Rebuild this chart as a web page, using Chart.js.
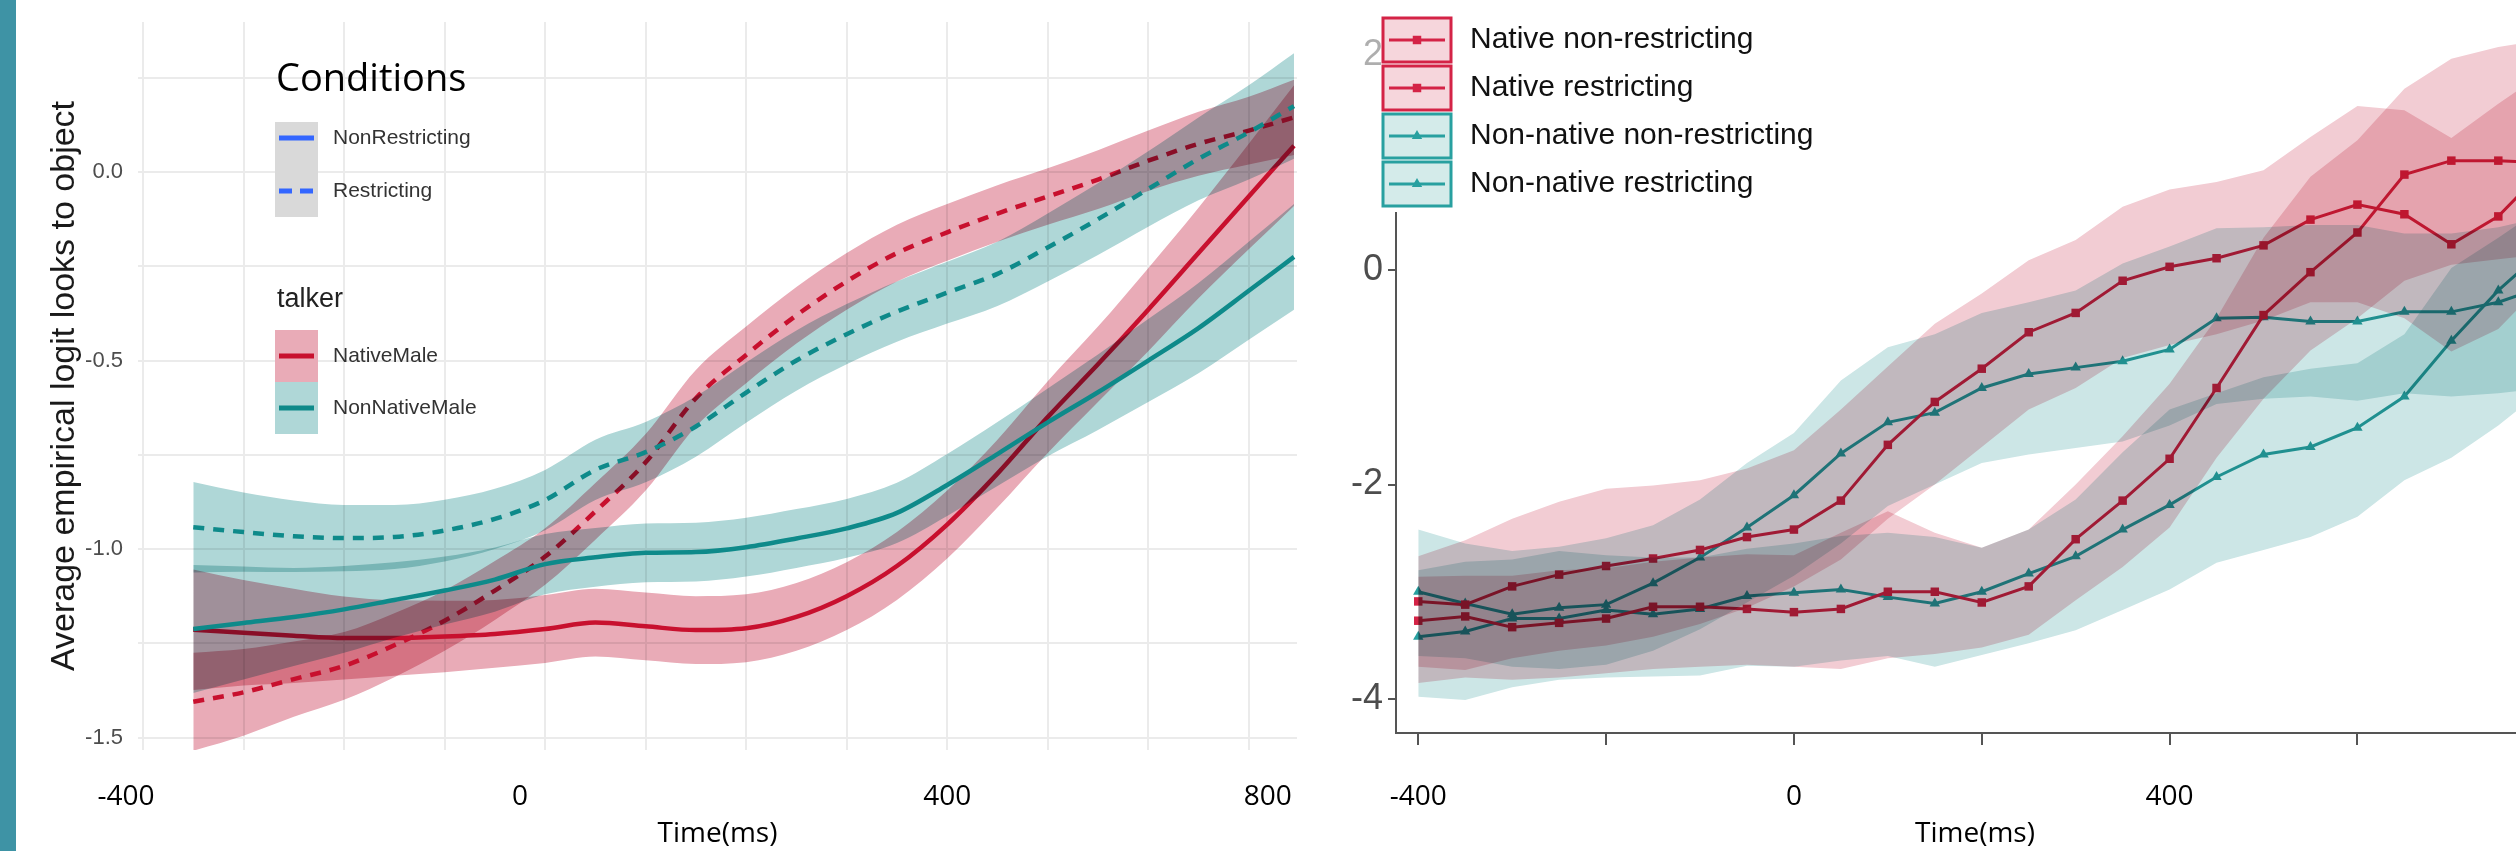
<!DOCTYPE html>
<html lang="en">
<head>
<meta charset="utf-8">
<title>Empirical logit looks to object</title>
<script src="https://cdn.jsdelivr.net/npm/chart.js@4.4.1/dist/chart.umd.min.js"></script>
<style>
  html, body { margin: 0; padding: 0; background: #fff; }
  body { width: 2516px; height: 851px; overflow: hidden; position: relative; }
  #franja { position: absolute; left: 0; top: 0; width: 16px; height: 851px; background: #3e93a5; z-index: 2; }
  #caja1 { position: absolute; left: 0; top: 0; width: 1340px; height: 851px; }
  #caja2 { position: absolute; left: 1300px; top: 0; width: 1260px; height: 851px; }
</style>
</head>
<body>
<div id="caja1"><canvas id="plot1" width="1340" height="851"></canvas></div>
<div id="caja2"><canvas id="plot2" width="1260" height="851"></canvas></div>
<div id="franja"></div>
<script>
// ---------- Panel izquierdo (curvas suavizadas) ----------
let leftTimes = [-350, -300, -250, -200, -150, -100, -50, 0, 50, 100, 150, 200, 250, 300, 350, 400, 450, 500, 550, 600, 650, 700, 745];

// NativeMale, NonRestricting (linea continua roja)
let nativeNonRestrFit = [-1.214, -1.222, -1.230, -1.236, -1.236, -1.232, -1.225, -1.212, -1.195, -1.205, -1.215, -1.210, -1.180, -1.125, -1.045, -0.935, -0.800, -0.650, -0.510, -0.365, -0.215, -0.065, 0.070];
let nativeNonRestrHi = [-1.054, -1.082, -1.105, -1.126, -1.136, -1.137, -1.135, -1.122, -1.105, -1.115, -1.125, -1.120, -1.090, -1.035, -0.955, -0.845, -0.710, -0.555, -0.410, -0.255, -0.095, 0.075, 0.230];
let nativeNonRestrLo = [-1.374, -1.362, -1.355, -1.346, -1.336, -1.327, -1.315, -1.302, -1.285, -1.295, -1.305, -1.300, -1.270, -1.215, -1.135, -1.025, -0.890, -0.745, -0.610, -0.475, -0.335, -0.205, -0.090];

// NativeMale, Restricting (discontinua roja)
let nativeRestrFit = [-1.405, -1.380, -1.345, -1.310, -1.255, -1.190, -1.110, -1.020, -0.900, -0.770, -0.600, -0.485, -0.380, -0.290, -0.215, -0.160, -0.110, -0.065, -0.020, 0.030, 0.075, 0.110, 0.145];
let nativeRestrHi = [-1.275, -1.265, -1.245, -1.220, -1.170, -1.110, -1.032, -0.945, -0.825, -0.695, -0.525, -0.410, -0.305, -0.215, -0.140, -0.085, -0.035, 0.010, 0.058, 0.110, 0.160, 0.200, 0.245];
let nativeRestrLo = [-1.535, -1.495, -1.445, -1.400, -1.340, -1.270, -1.188, -1.095, -0.975, -0.845, -0.675, -0.560, -0.455, -0.365, -0.290, -0.235, -0.185, -0.140, -0.098, -0.050, -0.010, 0.020, 0.045];

// NonNativeMale, NonRestricting (continua verde azulado)
let nonNativeNonRestrFit = [-1.212, -1.196, -1.180, -1.160, -1.135, -1.110, -1.081, -1.040, -1.022, -1.010, -1.008, -0.995, -0.972, -0.945, -0.904, -0.830, -0.748, -0.664, -0.584, -0.500, -0.414, -0.315, -0.225];
let nonNativeNonRestrHi = [-1.042, -1.046, -1.050, -1.045, -1.035, -1.020, -0.996, -0.960, -0.944, -0.932, -0.930, -0.917, -0.894, -0.867, -0.824, -0.748, -0.663, -0.574, -0.484, -0.390, -0.294, -0.185, -0.085];
let nonNativeNonRestrLo = [-1.382, -1.346, -1.310, -1.275, -1.235, -1.200, -1.166, -1.120, -1.100, -1.088, -1.086, -1.073, -1.050, -1.023, -0.984, -0.912, -0.833, -0.754, -0.684, -0.610, -0.534, -0.445, -0.365];

// NonNativeMale, Restricting (discontinua verde azulado)
let nonNativeRestrFit = [-0.942, -0.955, -0.966, -0.971, -0.968, -0.951, -0.920, -0.870, -0.790, -0.743, -0.675, -0.585, -0.500, -0.430, -0.370, -0.320, -0.270, -0.200, -0.125, -0.045, 0.035, 0.105, 0.175];
let nonNativeRestrHi = [-0.822, -0.850, -0.871, -0.883, -0.883, -0.869, -0.840, -0.790, -0.710, -0.663, -0.595, -0.505, -0.420, -0.350, -0.290, -0.238, -0.185, -0.110, -0.030, 0.055, 0.145, 0.230, 0.315];
let nonNativeRestrLo = [-1.062, -1.060, -1.061, -1.059, -1.053, -1.033, -1.000, -0.950, -0.870, -0.823, -0.755, -0.665, -0.580, -0.510, -0.450, -0.402, -0.355, -0.290, -0.220, -0.145, -0.075, -0.020, 0.035];

// lineas de la rejilla vertical
let leftGridValues = [-400, -300, -200, -100, 0, 100, 200, 300, 400, 500, 600, 700];
// etiquetas del eje x pegadas encima en la diapositiva
let leftTickLabels = ['-400', '0', '400', '800'];
let leftTickPos = [-417, -25, 400, 719];

let conditionNames = ['NonRestricting', 'Restricting'];
let talkerNames = ['NativeMale', 'NonNativeMale'];

// ---------- Panel derecho (medias empiricas) ----------
let rightTimes = [-400, -350, -300, -250, -200, -150, -100, -50, 0, 50, 100, 150, 200, 250, 300, 350, 400, 450, 500, 550, 600, 650, 700, 750, 800];
let rightTickValues = [-400, -200, 0, 200, 400, 600, 800];

let nativeNonRestr = [-3.27, -3.23, -3.33, -3.29, -3.25, -3.14, -3.14, -3.16, -3.19, -3.16, -3.00, -3.00, -3.10, -2.95, -2.51, -2.15, -1.76, -1.10, -0.42, -0.02, 0.35, 0.89, 1.02, 1.02, 1.00];
let nativeNonRestrUp = [-2.86, -2.85, -2.85, -2.80, -2.78, -2.72, -2.68, -2.65, -2.66, -2.45, -2.25, -2.45, -2.59, -2.42, -2.00, -1.55, -1.06, -0.45, 0.30, 0.87, 1.21, 1.69, 1.97, 2.08, 2.15];
let nativeNonRestrDown = [-3.85, -3.80, -3.82, -3.80, -3.76, -3.72, -3.70, -3.68, -3.70, -3.72, -3.62, -3.58, -3.52, -3.40, -3.08, -2.77, -2.40, -1.75, -1.20, -0.75, -0.45, -0.10, 0.05, 0.10, 0.15];

let nativeRestr = [-3.09, -3.12, -2.95, -2.84, -2.76, -2.69, -2.61, -2.49, -2.42, -2.15, -1.63, -1.23, -0.92, -0.58, -0.40, -0.10, 0.03, 0.11, 0.23, 0.47, 0.61, 0.52, 0.24, 0.50, 0.95];
let nativeRestrUp = [-2.67, -2.52, -2.32, -2.16, -2.04, -2.01, -1.96, -1.85, -1.68, -1.30, -0.90, -0.50, -0.22, 0.09, 0.28, 0.59, 0.75, 0.82, 0.93, 1.24, 1.53, 1.49, 1.23, 1.55, 1.85];
let nativeRestrDown = [-3.70, -3.73, -3.62, -3.55, -3.50, -3.42, -3.30, -3.15, -2.95, -2.70, -2.32, -2.00, -1.65, -1.30, -1.10, -0.82, -0.70, -0.60, -0.47, -0.30, -0.30, -0.45, -0.76, -0.55, -0.10];

let nonNativeNonRestr = [-3.42, -3.37, -3.25, -3.25, -3.17, -3.21, -3.16, -3.04, -3.01, -2.98, -3.05, -3.11, -3.00, -2.83, -2.67, -2.42, -2.19, -1.93, -1.72, -1.65, -1.47, -1.18, -0.66, -0.19, 0.20];
let nonNativeNonRestrUp = [-2.80, -2.72, -2.70, -2.62, -2.66, -2.68, -2.68, -2.60, -2.55, -2.48, -2.45, -2.49, -2.59, -2.42, -2.14, -1.70, -1.30, -1.15, -1.00, -0.92, -0.87, -0.60, 0.02, 0.30, 0.60];
let nonNativeNonRestrDown = [-3.98, -4.01, -3.89, -3.82, -3.80, -3.79, -3.78, -3.69, -3.70, -3.64, -3.60, -3.70, -3.59, -3.48, -3.36, -3.17, -2.98, -2.73, -2.61, -2.49, -2.30, -1.96, -1.75, -1.45, -1.10];

let nonNativeRestr = [-3.00, -3.11, -3.21, -3.15, -3.12, -2.92, -2.68, -2.40, -2.10, -1.71, -1.42, -1.33, -1.10, -0.97, -0.91, -0.85, -0.74, -0.45, -0.44, -0.48, -0.48, -0.39, -0.39, -0.30, -0.15];
let nonNativeRestrUp = [-2.42, -2.55, -2.62, -2.58, -2.50, -2.38, -2.14, -1.80, -1.52, -1.03, -0.72, -0.60, -0.40, -0.30, -0.19, 0.06, 0.22, 0.39, 0.40, 0.42, 0.42, 0.34, 0.34, 0.40, 0.50];
let nonNativeRestrDown = [-3.60, -3.62, -3.70, -3.72, -3.68, -3.55, -3.35, -3.10, -2.85, -2.55, -2.20, -2.00, -1.80, -1.72, -1.66, -1.60, -1.45, -1.25, -1.20, -1.18, -1.22, -1.15, -1.18, -1.15, -1.10];

// colores
let rojo = '#c8102e';
let verde = '#0e8a8a';
let rosaBandaIzq = '#e9abb7';
let verdeBandaIzq = '#afd7d7';
let rojoDer = '#d42346';
let verdeDer = '#28a0a0';
let rosaBandaDer = '#f2ccd3';
let verdeBandaDer = '#cce6e6';

let puntos = (tiempos, valores) => tiempos.map((t, i) => ({ x: t, y: valores[i] }));
let marcas = (valores) => (scale) => { scale.ticks = valores.map(v => ({ value: v })); };

// Las bandas se mezclan en modo multiply, como las transparencias del original
let modo = (chart, meta) => {
  let esBanda = meta && chart.data.datasets[meta.index].band;
  chart.ctx.globalCompositeOperation = esBanda ? 'multiply' : 'source-over';
};

let mezclaBandas = {
  id: 'mezclaBandas',
  beforeDatasetsDraw(chart) {
    let metas = chart.getSortedVisibleDatasetMetas();
    modo(chart, metas[metas.length - 1]);
  },
  afterDatasetDraw(chart, args) {
    let metas = chart.getSortedVisibleDatasetMetas();
    let pos = metas.indexOf(args.meta);
    modo(chart, metas[pos - 1]);
  },
  afterDatasetsDraw(chart) {
    chart.ctx.globalCompositeOperation = 'source-over';
  }
};

// banda = dataset superior relleno hasta el inferior
let banda = (tiempos, sup, inf, color, orden, suave) => [
  { data: puntos(tiempos, sup), fill: '+1', backgroundColor: color, borderColor: 'rgba(0,0,0,0)', borderWidth: 0, pointRadius: 0, band: true, order: orden, cubicInterpolationMode: suave ? 'monotone' : 'default', tension: 0 },
  { data: puntos(tiempos, inf), fill: false, borderColor: 'rgba(0,0,0,0)', borderWidth: 0, pointRadius: 0, order: orden, cubicInterpolationMode: suave ? 'monotone' : 'default', tension: 0 }
];

let curva = (valores, color, dash, orden) => ({
  data: puntos(leftTimes, valores), borderColor: color, borderWidth: 4.5, borderDash: dash,
  pointRadius: 0, fill: false, order: orden, cubicInterpolationMode: 'monotone'
});

// Leyenda del panel izquierdo (estilo ggplot)
let leyendaIzq = {
  id: 'leyendaIzq',
  afterDraw(chart) {
    let ctx = chart.ctx;
    ctx.save();
    ctx.textBaseline = 'middle';
    ctx.textAlign = 'left';

    ctx.fillStyle = '#000';
    ctx.font = '38px "Open Sans"';
    ctx.fillText('Conditions', 276, 80);

    ctx.fillStyle = '#d9d9d9';
    ctx.fillRect(275, 122, 43, 95);
    conditionNames.forEach((name, i) => {
      let y = 138 + i * 53;
      ctx.strokeStyle = '#3366ff';
      ctx.lineWidth = 5;
      ctx.setLineDash(i === 0 ? [] : [13, 8]);
      ctx.beginPath();
      ctx.moveTo(279, y);
      ctx.lineTo(314, y);
      ctx.stroke();
      ctx.setLineDash([]);
      ctx.fillStyle = '#333';
      ctx.font = '21px "Liberation Sans"';
      ctx.fillText(name, 333, y);
    });

    ctx.fillStyle = '#222';
    ctx.font = '27px "Liberation Sans"';
    ctx.fillText('talker', 277, 300);

    let fondos = [rosaBandaIzq, verdeBandaIzq];
    let lineas = [rojo, verde];
    talkerNames.forEach((name, i) => {
      let top = 330 + i * 52;
      ctx.fillStyle = fondos[i];
      ctx.fillRect(275, top, 43, 52);
      ctx.strokeStyle = lineas[i];
      ctx.lineWidth = 5;
      ctx.beginPath();
      ctx.moveTo(279, top + 26);
      ctx.lineTo(314, top + 26);
      ctx.stroke();
      ctx.fillStyle = '#333';
      ctx.font = '21px "Liberation Sans"';
      ctx.fillText(name, 333, top + 26);
    });
    ctx.restore();
  }
};

let plotRef = document.getElementById('plot1');

let config1 = {
  type: 'line',
  data: {
    datasets: [
      ...banda(leftTimes, nativeNonRestrHi, nativeNonRestrLo, rosaBandaIzq, 4, true),
      ...banda(leftTimes, nativeRestrHi, nativeRestrLo, rosaBandaIzq, 4, true),
      curva(nativeNonRestrFit, rojo, [], 3),
      curva(nativeRestrFit, rojo, [11, 9], 3),
      ...banda(leftTimes, nonNativeNonRestrHi, nonNativeNonRestrLo, verdeBandaIzq, 2, true),
      ...banda(leftTimes, nonNativeRestrHi, nonNativeRestrLo, verdeBandaIzq, 2, true),
      curva(nonNativeNonRestrFit, verde, [], 1),
      curva(nonNativeRestrFit, verde, [11, 9], 1)
    ]
  },
  options: {
    responsive: false,
    animation: false,
    devicePixelRatio: 1,
    layout: { padding: { left: 0, top: 22, right: 43, bottom: 0 } },
    plugins: { legend: { display: false }, tooltip: { enabled: false } },
    scales: {
      x: {
        type: 'linear', min: -405, max: 748,
        afterBuildTicks: marcas(leftGridValues),
        ticks: { display: false },
        grid: { color: '#ebebeb', lineWidth: 2, drawTicks: false },
        border: { display: false },
        afterFit: (scale) => { scale.height = 0; scale.paddingLeft = 0; scale.paddingRight = 0; }
      },
      xl: {
        type: 'linear', position: 'bottom', min: -405, max: 748,
        afterBuildTicks: marcas(leftTickPos),
        ticks: {
          autoSkip: false, maxRotation: 0, padding: 30, color: '#000',
          font: { family: '"Open Sans", sans-serif', size: 28 },
          callback: (value, index) => leftTickLabels[index]
        },
        grid: { display: false, drawTicks: false },
        border: { display: false },
        title: { display: true, text: 'Time(ms)', color: '#000', padding: 0, font: { family: '"Open Sans", sans-serif', size: 28 } },
        afterFit: (scale) => { scale.height = 101; scale.paddingLeft = 0; scale.paddingRight = 0; }
      },
      y: {
        min: -1.533, max: 0.398,
        ticks: {
          stepSize: 0.25, includeBounds: false, padding: 15, color: '#4d4d4d',
          font: { family: '"Liberation Sans", Arial, sans-serif', size: 22 },
          callback: (v) => Math.abs(v * 2 - Math.round(v * 2)) < 1e-6 ? v.toFixed(1) : ''
        },
        grid: { color: '#ebebeb', lineWidth: 2, drawTicks: false },
        border: { display: false },
        title: {
          display: true, text: 'Average empirical logit looks to object', color: '#1a1a1a',
          padding: { top: 44, bottom: 0 },
          font: { family: '"Liberation Sans", Arial, sans-serif', size: 34 }
        },
        afterFit: (scale) => { scale.width = 138; scale.paddingTop = 0; scale.paddingBottom = 0; }
      }
    }
  },
  plugins: [mezclaBandas, leyendaIzq]
};

let chart1 = new Chart(plotRef, config1);

// Leyenda del panel derecho: caja con linea y marcador
let leyendaDer = {
  id: 'leyendaDer',
  afterDraw(chart) {
    let ctx = chart.ctx;
    ctx.save();
    ctx.fillStyle = 'rgba(255,255,255,0.55)';
    ctx.fillRect(55, 0, 26, 212);
    ctx.fillStyle = '#fff';
    ctx.fillRect(81, 0, 84, 212);
    ctx.textBaseline = 'middle';
    ctx.textAlign = 'left';
    chart.data.datasets.filter(d => d.enLeyenda).forEach((d, i) => {
      let top = 18 + i * 48;
      ctx.fillStyle = d.colorCaja;
      ctx.fillRect(83, top, 68, 44);
      ctx.strokeStyle = d.borderColor;
      ctx.lineWidth = 3;
      ctx.strokeRect(83, top, 68, 44);
      ctx.beginPath();
      ctx.moveTo(89, top + 22);
      ctx.lineTo(145, top + 22);
      ctx.stroke();
      ctx.fillStyle = d.borderColor;
      Chart.helpers.drawPoint(ctx, { pointStyle: d.pointStyle, radius: 6, rotation: 0, borderWidth: 0 }, 117, top + 22);
      ctx.fillStyle = '#111';
      ctx.font = '30px "Liberation Sans", Arial, sans-serif';
      ctx.fillText(d.label, 170, top + 22);
    });
    ctx.restore();
  }
};

let serie = (label, valores, color, caja, estilo) => ({
  label: label, data: puntos(rightTimes, valores), borderColor: color, backgroundColor: color,
  pointStyle: estilo, pointRadius: 6, pointBorderWidth: 0, borderWidth: 3, fill: false,
  order: 2, tension: 0, enLeyenda: true, colorCaja: caja
});

let plotRef2 = document.getElementById('plot2');

let config2 = {
  type: 'line',
  data: {
    datasets: [
      serie('Native non-restricting', nativeNonRestr, rojoDer, '#f6d6dc', 'rect'),
      serie('Native restricting', nativeRestr, rojoDer, '#f6d6dc', 'rect'),
      serie('Non-native non-restricting', nonNativeNonRestr, verdeDer, '#d4ebea', 'triangle'),
      serie('Non-native restricting', nonNativeRestr, verdeDer, '#d4ebea', 'triangle'),
      ...banda(rightTimes, nativeNonRestrUp, nativeNonRestrDown, rosaBandaDer, 1, false),
      ...banda(rightTimes, nativeRestrUp, nativeRestrDown, rosaBandaDer, 1, false),
      ...banda(rightTimes, nonNativeNonRestrUp, nonNativeNonRestrDown, verdeBandaDer, 1, false),
      ...banda(rightTimes, nonNativeRestrUp, nonNativeRestrDown, verdeBandaDer, 1, false)
    ]
  },
  options: {
    responsive: false,
    animation: false,
    devicePixelRatio: 1,
    layout: { padding: { left: 0, top: 15, right: 0, bottom: 0 } },
    plugins: { legend: { display: false }, tooltip: { enabled: false } },
    scales: {
      x: {
        type: 'linear', min: -423.7, max: 809.3,
        afterBuildTicks: marcas(rightTickValues),
        ticks: {
          autoSkip: false, maxRotation: 0, padding: 35, color: '#000',
          font: { family: '"Open Sans", sans-serif', size: 28 },
          callback: (v) => v % 400 === 0 ? String(v) : ''
        },
        grid: { drawOnChartArea: false, drawTicks: true, tickLength: 12, color: '#555', lineWidth: 2 },
        border: { display: true, color: '#555', width: 2 },
        title: { display: true, text: 'Time(ms)', color: '#000', padding: 0, font: { family: '"Open Sans", sans-serif', size: 28 } },
        afterFit: (scale) => { scale.height = 118; scale.paddingLeft = 0; scale.paddingRight = 0; }
      },
      y: {
        min: -4.317, max: 2.378,
        ticks: {
          stepSize: 2, includeBounds: false, padding: 5, color: '#4d4d4d',
          font: { family: '"Liberation Sans", Arial, sans-serif', size: 36 }
        },
        grid: { drawOnChartArea: false, drawTicks: true, tickLength: 8, color: '#555', lineWidth: 2 },
        border: { display: true, color: '#555', width: 2 },
        afterFit: (scale) => { scale.width = 96; scale.paddingTop = 0; scale.paddingBottom = 0; }
      }
    }
  },
  plugins: [mezclaBandas, leyendaDer]
};

let chart2 = new Chart(plotRef2, config2);
</script>
</body>
</html>
